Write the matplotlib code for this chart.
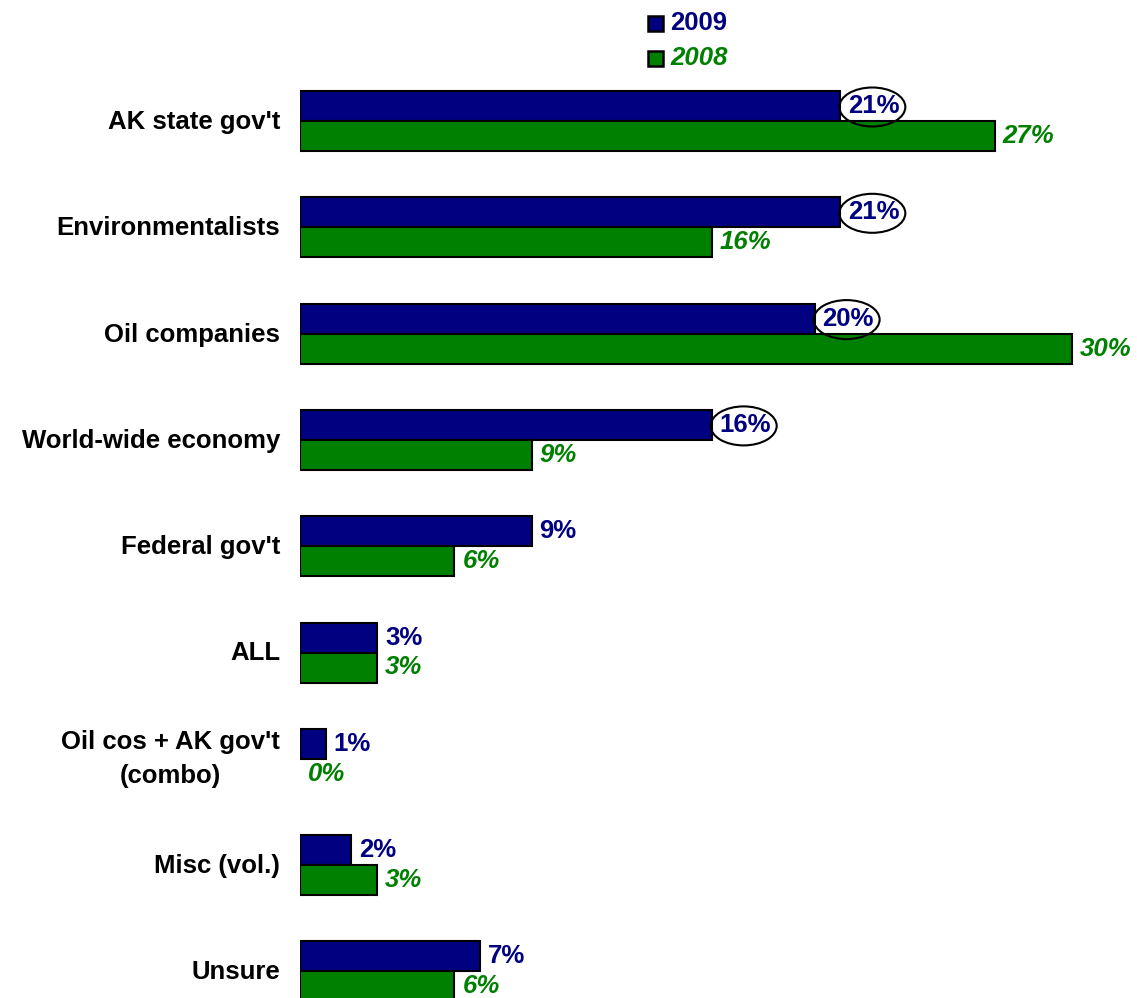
"""Who is to blame: 2009 vs 2008 horizontal bar comparison"""
import matplotlib.pyplot as plt
from matplotlib.patches import Ellipse, Rectangle

plt.rcParams['font.family'] = ['Liberation Sans', 'DejaVu Sans']
plt.rcParams['font.weight'] = 'bold'

categories = ["AK state gov't", "Environmentalists", "Oil companies",
              "World-wide economy", "Federal gov't", "ALL",
              "Oil cos + AK gov't\n(combo)", "Misc (vol.)", "Unsure"]
vals_2009 = [21, 21, 20, 16, 9, 3, 1, 2, 7]
vals_2008 = [27, 16, 30, 9, 6, 3, 0, 3, 6]
circled = [0, 1, 2, 3]  # 2009 labels ringed

NAVY = '#000080'
GREEN = '#008000'
FS = 18.5
LABEL_FS = 18.5

W, H = 1137, 998
fig = plt.figure(figsize=(W / 100, H / 100), dpi=100)
px_per_pct = 25.73
row_px = 106.3
left = 300 / W
ax = fig.add_axes([left, 0, 1 - left, 1])
ax.set_xlim(0, (W - 300) / px_per_pct)
ax.set_ylim(-(H - 121) / row_px, 121 / row_px)
ax.axis('off')

bh = 30 / row_px
gap = 8 / px_per_pct
for i, (cat, b, g) in enumerate(zip(categories, vals_2009, vals_2008)):
    y = -i
    ax.barh(y + bh / 2, b, height=bh, color=NAVY, edgecolor='black', linewidth=1.5)
    if g > 0:
        ax.barh(y - bh / 2, g, height=bh, color=GREEN, edgecolor='black', linewidth=1.5)
    ax.text(b + gap, y + bh / 2, f'{b}%', color=NAVY, fontsize=FS,
            fontweight='bold', ha='left', va='center')
    ax.text(g + gap, y - bh / 2, f'{g}%', color=GREEN, fontsize=FS,
            fontweight='bold', style='italic', ha='left', va='center')
    if i in circled:
        cx = b + gap + 24 / px_per_pct
        ax.add_patch(Ellipse((cx, y + bh / 2 - 1 / row_px), 66 / px_per_pct, 39 / row_px,
                             fill=False, edgecolor='black', linewidth=1.5, zorder=4))
    # baseline of the last label line, in pixels from the top
    yc = 121 + i * row_px
    base = yc + 24 if '\n' in cat else yc + 8
    fig.text(280 / W, 1 - base / H, cat, fontsize=LABEL_FS, fontweight='bold',
             ha='right', va='baseline', multialignment='center', linespacing=1.5)

# legend at the top
for k, (lab, col, st) in enumerate([('2009', NAVY, 'normal'), ('2008', GREEN, 'italic')]):
    yc = 1 - (23 + 35 * k) / H
    fig.patches.append(Rectangle((648 / W, yc - 8 / H), 15 / W, 15 / H,
                                 transform=fig.transFigure, facecolor=col,
                                 edgecolor='black', linewidth=1.8))
    fig.text(670 / W, yc, lab, color=col, fontsize=FS, fontweight='bold', style=st,
             ha='left', va='center')

fig.savefig('out.png', dpi=100)
